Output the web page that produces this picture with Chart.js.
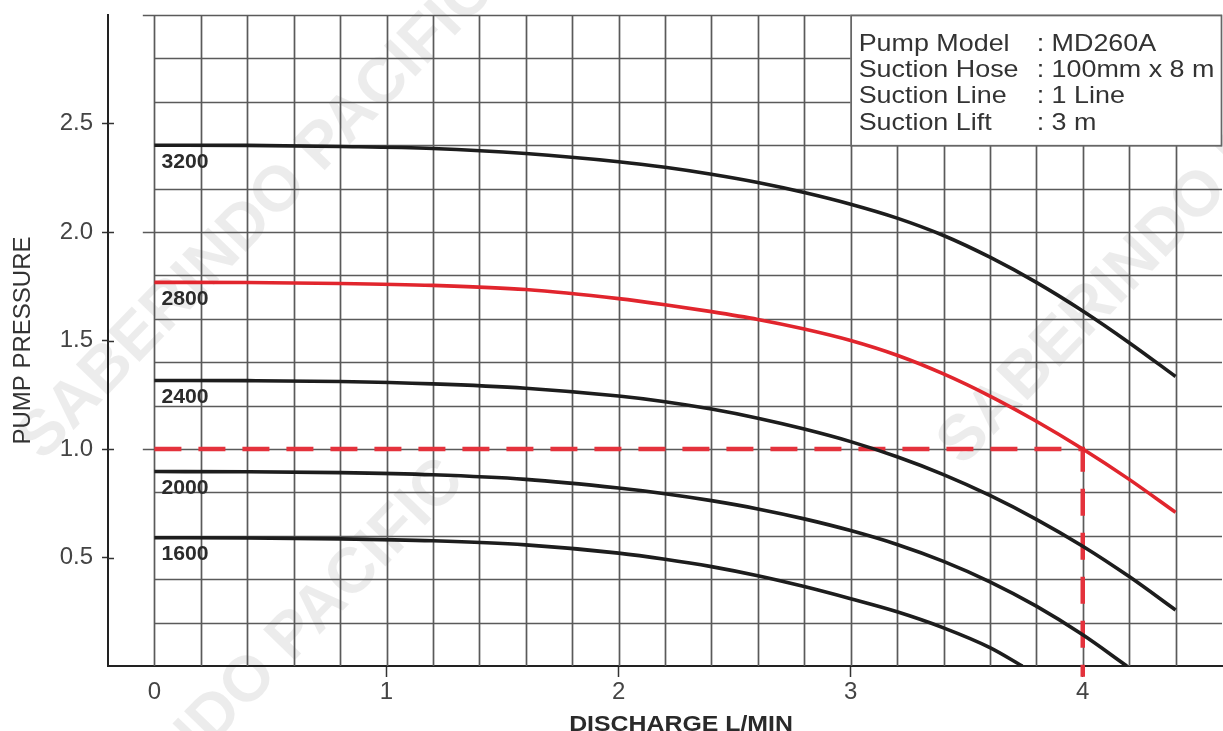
<!DOCTYPE html>
<html><head><meta charset="utf-8">
<script src="https://cdn.jsdelivr.net/npm/chart.js@4/dist/chart.umd.min.js"></script>
<style>html,body{margin:0;padding:0;background:#fff;}#wrap{width:1223px;height:731px;position:relative;}</style>
</head><body><div id="wrap"><canvas id="c"></canvas></div>
<script>
// ---- data ----
const xTickValues = [0, 1, 2, 3, 4];
const yTickValues = [0.5, 1.0, 1.5, 2.0, 2.5];
const rpmLabels = ['3200', '2800', '2400', '2000', '1600'];
const flowFull = [0, 0.4, 0.8, 1.2, 1.6, 2.0, 2.2, 2.4, 2.6, 2.8, 3.0, 3.2, 3.4, 3.6, 3.8, 4.0, 4.2, 4.4];
const pres3200 = [2.400, 2.399, 2.394, 2.385, 2.362, 2.324, 2.298, 2.266, 2.228, 2.182, 2.128, 2.064, 1.984, 1.884, 1.768, 1.636, 1.490, 1.334];
const pres2800 = [1.768, 1.767, 1.763, 1.754, 1.735, 1.693, 1.665, 1.633, 1.597, 1.553, 1.500, 1.432, 1.346, 1.244, 1.128, 1.000, 0.860, 0.708];
const pres2400 = [1.316, 1.315, 1.311, 1.300, 1.280, 1.244, 1.218, 1.184, 1.142, 1.092, 1.034, 0.964, 0.882, 0.786, 0.676, 0.552, 0.412, 0.258];
const flow2000 = [0, 0.4, 0.8, 1.2, 1.6, 2.0, 2.2, 2.4, 2.6, 2.8, 3.0, 3.2, 3.4, 3.6, 3.8, 4.0, 4.19];
const pres2000 = [0.896, 0.895, 0.891, 0.881, 0.860, 0.820, 0.794, 0.762, 0.724, 0.678, 0.624, 0.560, 0.482, 0.388, 0.276, 0.144, 0];
const flow1600 = [0, 0.4, 0.8, 1.2, 1.6, 2.0, 2.2, 2.4, 2.6, 2.8, 3.0, 3.2, 3.4, 3.6, 3.74];
const pres1600 = [0.591, 0.590, 0.586, 0.577, 0.558, 0.520, 0.492, 0.458, 0.416, 0.366, 0.310, 0.250, 0.176, 0.085, 0];
const dutyFlow = 4.0;
const dutyPressure = 1.0;
const infoLabels = ['Pump Model', 'Suction Hose', 'Suction Line', 'Suction Lift'];
const infoValues = [': MD260A', ': 100mm x 8 m', ': 1 Line', ': 3 m'];
const xTitle = 'DISCHARGE L/MIN';
const yTitle = 'PUMP PRESSURE';
const watermark = 'SABERINDO PACIFIC';

const FONT = '"Liberation Sans", Arial, Helvetica, sans-serif';
const toPts = (xs, ys) => xs.map((x, i) => ({x: x, y: ys[i]}));
const series = [
  {label: rpmLabels[0], data: toPts(flowFull, pres3200), color: '#1d1d1d'},
  {label: rpmLabels[1], data: toPts(flowFull, pres2800), color: '#e1252d'},
  {label: rpmLabels[2], data: toPts(flowFull, pres2400), color: '#1d1d1d'},
  {label: rpmLabels[3], data: toPts(flow2000, pres2000), color: '#1d1d1d'},
  {label: rpmLabels[4], data: toPts(flow1600, pres1600), color: '#1d1d1d'}
];

function stretchText(ctx, t, x, y, sx) {
  ctx.save(); ctx.translate(x, y); ctx.scale(sx, 1); ctx.fillText(t, 0, 0); ctx.restore();
}

const paperPlugin = {
  id: 'paper',
  beforeDraw(chart) {
    const ctx = chart.ctx;
    ctx.save();
    ctx.fillStyle = '#fff';
    ctx.fillRect(0, 0, chart.width, chart.height);
    ctx.fillStyle = 'rgba(0,0,0,0.075)';
    ctx.font = 'bold 64px ' + FONT;
    ctx.textBaseline = 'middle';
    const ang = -46 * Math.PI / 180;
    [[30, 450], [0, 940], [950, 455]].forEach(p => {
      ctx.save(); ctx.translate(p[0], p[1]); ctx.rotate(ang); ctx.fillText(watermark, 0, 0); ctx.restore();
    });
    ctx.restore();
  },
  beforeDatasetsDraw(chart) {
    const ctx = chart.ctx, xs = chart.scales.x, ys = chart.scales.y, ca = chart.chartArea;
    ctx.save();
    ctx.strokeStyle = '#5a5a5a';
    ctx.lineWidth = 1.7;
    const yTop = ys.getPixelForValue(3.0), yBot = ys.getPixelForValue(0);
    for (let i = 0; i <= 22; i++) {
      const px = Math.round(xs.getPixelForValue(i * 0.2)) + 0.5;
      ctx.beginPath(); ctx.moveTo(px, yTop); ctx.lineTo(px, yBot); ctx.stroke();
    }
    for (let j = 1; j <= 15; j++) {
      const v = j * 0.2;
      const py = Math.round(ys.getPixelForValue(v)) + 0.5;
      const major = Math.abs(v - Math.round(v)) < 1e-6;
      const x0 = xs.getPixelForValue(major ? -0.05 : 0);
      ctx.beginPath(); ctx.moveTo(x0, py); ctx.lineTo(ca.right, py); ctx.stroke();
    }
    ctx.strokeStyle = '#333'; ctx.lineWidth = 1.5;
    yTickValues.forEach(v => {
      const py = Math.round(ys.getPixelForValue(v)) + 0.5;
      ctx.beginPath(); ctx.moveTo(ca.left, py); ctx.lineTo(ca.left + 6, py); ctx.stroke();
    });
    const bl = xs.getPixelForValue(3.0), bt = ys.getPixelForValue(3.0), bb = ys.getPixelForValue(2.4);
    const br = ca.right;
    ctx.fillStyle = '#fff';
    ctx.fillRect(bl, bt, br - bl, bb - bt);
    ctx.strokeStyle = '#666'; ctx.lineWidth = 1.7;
    ctx.strokeRect(bl + 0.5, bt + 0.5, br - bl - 1, bb - bt);
    ctx.fillStyle = '#333';
    ctx.font = '24px ' + FONT;
    ctx.textBaseline = 'middle';
    infoLabels.forEach((t, i) => {
      const y = bt + 29 + i * 26.4;
      stretchText(ctx, t, bl + 8, y, 1.12);
      stretchText(ctx, infoValues[i], bl + 186, y, 1.12);
    });
    ctx.restore();
  },
  afterDatasetsDraw(chart) {
    const ctx = chart.ctx, xs = chart.scales.x, ys = chart.scales.y, ca = chart.chartArea;
    ctx.save();
    ctx.fillStyle = '#2b2b2b';
    ctx.font = 'bold 20px ' + FONT;
    ctx.textBaseline = 'middle';
    series.forEach(s => {
      const p = s.data[0];
      stretchText(ctx, s.label, xs.getPixelForValue(p.x) + 7, ys.getPixelForValue(p.y) + 17, 1.06);
    });
    ctx.fillStyle = '#2a2a2a';
    ctx.font = 'bold 22px ' + FONT;
    ctx.textBaseline = 'alphabetic';
    const w = ctx.measureText(xTitle).width * 1.13;
    stretchText(ctx, xTitle, (ca.left + ca.right) / 2 + 16 - w / 2, 731, 1.13);
    ctx.restore();
  }
};

const datasets = series.map(s => ({
  label: s.label, data: s.data, borderColor: s.color, borderWidth: 3.6,
  pointRadius: 0, fill: false, tension: 0.4, cubicInterpolationMode: 'monotone'
}));
datasets.push({
  label: 'duty', data: [{x: 0, y: dutyPressure}, {x: dutyFlow, y: dutyPressure}, {x: dutyFlow, y: -0.05}],
  borderColor: '#e4323c', borderWidth: 4.5, borderDash: [27, 17], pointRadius: 0, fill: false,
  tension: 0, clip: false
});

new Chart(document.getElementById('c'), {
  type: 'line',
  data: {datasets: datasets},
  plugins: [paperPlugin],
  options: {
    responsive: true, maintainAspectRatio: false, animation: false,
    devicePixelRatio: 1,
    layout: {padding: {top: 15, right: 1, left: 0, bottom: 0}},
    plugins: {legend: {display: false}, tooltip: {enabled: false}},
    scales: {
      x: {
        type: 'linear', min: -0.2, max: 4.6,
        afterBuildTicks: s => { s.ticks = xTickValues.map(v => ({value: v})); },
        afterFit: s => { s.height = 65; s.paddingLeft = 0; s.paddingRight = 0; },
        ticks: {font: {family: FONT, size: 24}, color: '#444', padding: 1, maxRotation: 0,
                callback: v => String(v)},
        grid: {display: true, drawOnChartArea: false, drawTicks: true, tickLength: 11,
               tickWidth: 1.5,
               tickColor: c => (c.tick && c.tick.value === 0) ? 'rgba(0,0,0,0)' : '#333'},
        border: {display: true, color: '#222', width: 2}
      },
      y: {
        type: 'linear', min: 0, max: 3.0,
        afterBuildTicks: s => { s.ticks = yTickValues.map(v => ({value: v})); },
        afterFit: s => { s.width = 108; s.paddingTop = 0; s.paddingBottom = 0; },
        ticks: {font: {family: FONT, size: 24}, color: '#444', padding: 9,
                callback: v => Number(v).toFixed(1)},
        grid: {display: true, drawOnChartArea: false, drawTicks: true, tickLength: 6,
               tickWidth: 1.5, tickColor: '#333'},
        border: {display: true, color: '#222', width: 2},
        title: {display: true, text: yTitle, color: '#333', font: {family: FONT, size: 24},
                padding: {top: 9, bottom: 0}}
      }
    }
  }
});
</script></body></html>
